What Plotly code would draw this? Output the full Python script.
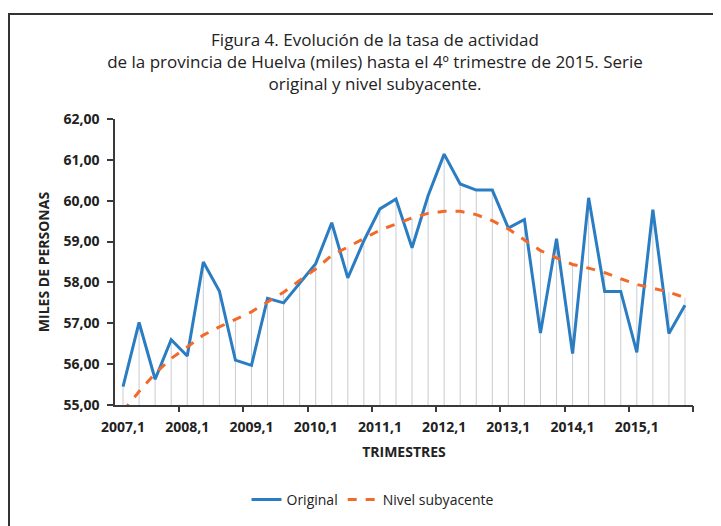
import plotly.graph_objects as go

years = list(range(2007, 2016))
quarters = [f"{y},{q}" for y in years for q in range(1, 5)]

original = [55.45, 57.02, 55.63, 56.60, 56.20, 58.50, 57.79, 56.10,
            55.97, 57.61, 57.50, 57.97, 58.46, 59.46, 58.11, 59.02,
            59.80, 60.04, 58.85, 60.12, 61.14, 60.41, 60.26, 60.26,
            59.33, 59.54, 56.76, 59.07, 56.26, 60.07, 57.78, 57.78,
            56.29, 59.78, 56.75, 57.44]

trend = [54.85, 55.33, 55.77, 56.14, 56.42, 56.71, 56.91, 57.09,
         57.28, 57.52, 57.76, 58.05, 58.33, 58.66, 58.86, 59.08,
         59.28, 59.43, 59.58, 59.69, 59.74, 59.74, 59.66, 59.51,
         59.31, 59.04, 58.78, 58.60, 58.44, 58.35, 58.24, 58.09,
         57.95, 57.86, 57.76, 57.63]

y_ticks = [55, 56, 57, 58, 59, 60, 61, 62]
y_ticktext = [f"{v},00" for v in y_ticks]

idx = list(range(len(quarters)))
label_idx = [i for i in idx if quarters[i].endswith(",1")]
label_txt = [quarters[i] for i in label_idx]
boundary_ticks = [i + 3.5 for i in label_idx]

W, H = 721, 526
L, R, T, B = 107, 36, 111, 129
PW, PH = W - L - R, H - T - B

# drop lines
dx, dy = [], []
for i in idx:
    dx += [i, i, None]
    dy += [55, max(original[i], trend[i]), None]

fig = go.Figure()
fig.add_trace(go.Scatter(x=dx, y=dy, mode="lines",
                         line=dict(color="#c9ccd3", width=1),
                         showlegend=False, hoverinfo="skip"))
fig.add_trace(go.Scatter(x=idx, y=original, mode="lines", name="Original",
                         line=dict(color="#2a7dc2", width=3)))
fig.add_trace(go.Scatter(x=idx, y=trend, mode="lines", name="Nivel subyacente",
                         line=dict(color="#f26a2a", width=3, dash="dash")))
fig.add_trace(go.Scatter(x=[None], y=[None], xaxis="x2", showlegend=False, hoverinfo="skip"))

axis_color = "#3a3a3a"
FONT = "Open Sans"
TXT = "#222222"

fig.update_layout(
    width=W, height=H,
    margin=dict(l=L, r=R, t=T, b=B, autoexpand=False),
    paper_bgcolor="white", plot_bgcolor="white",
    font=dict(family=FONT, color=TXT),
    title=dict(
        text="Figura 4. Evolución de la tasa de actividad<br>de la provincia de Huelva (miles) hasta el 4º trimestre de 2015. Serie<br>original y nivel subyacente.",
        x=367 / W, xref="container", xanchor="center",
        y=1 - 38 / H, yref="container", yanchor="middle",
        font=dict(family=FONT, size=17, color=TXT),
    ),
    xaxis=dict(
        range=[-0.5, len(quarters) - 0.5],
        tickvals=label_idx, ticktext=label_txt, tickangle=0,
        ticks="", showgrid=False, zeroline=False, ticklabelstandoff=8,
        showline=True, linecolor=axis_color, linewidth=1.5,
        tickfont=dict(family=FONT, size=14, color=TXT, weight="bold"),
        title=dict(text="TRIMESTRES", standoff=13,
                   font=dict(family=FONT, size=14, color=TXT, weight="bold")),
    ),
    xaxis2=dict(
        range=[-0.5, len(quarters) - 0.5], overlaying="x", side="bottom",
        tickvals=boundary_ticks, ticks="outside", ticklen=6, tickwidth=1.5,
        tickcolor=axis_color, showticklabels=False, showgrid=False,
        zeroline=False, showline=False,
    ),
    yaxis=dict(
        range=[55, 62], tickvals=y_ticks, ticktext=y_ticktext,
        ticks="outside", ticklen=6, tickwidth=1.5, tickcolor=axis_color,
        showgrid=False, zeroline=False, ticklabelstandoff=5,
        showline=True, linecolor=axis_color, linewidth=1.5,
        tickfont=dict(family=FONT, size=14, color=TXT, weight="bold"),
        title=dict(text="MILES DE PERSONAS", standoff=11,
                   font=dict(family=FONT, size=14, color=TXT, weight="bold")),
    ),
    legend=dict(
        orientation="h", x=(365 - L) / PW, xanchor="center",
        y=-95 / PH, yanchor="middle",
        font=dict(family=FONT, size=14, color=TXT),
        bgcolor="rgba(0,0,0,0)",
    ),
    shapes=[dict(type="rect", xref="paper", yref="paper",
                 x0=(1 - L) / PW, x1=(W + 10 - L) / PW,
                 y0=-(B + 10) / PH, y1=(H - B - 6) / PH,
                 line=dict(color="#333333", width=2))],
)

fig.write_html("out.html")
